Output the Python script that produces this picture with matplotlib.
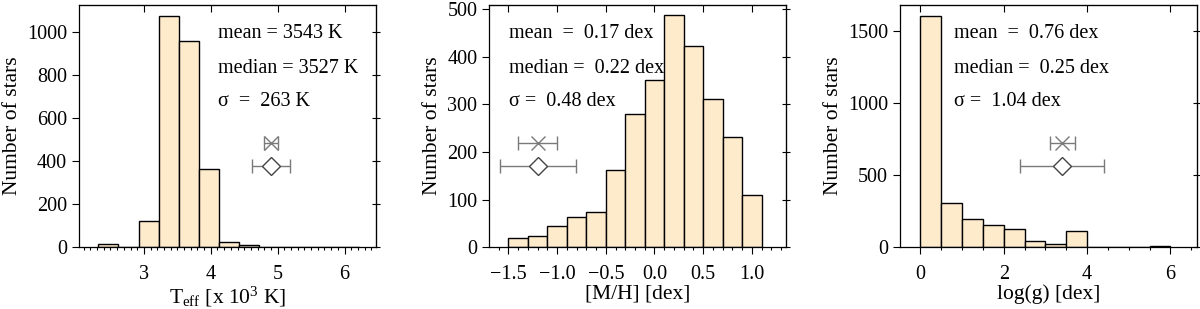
import numpy as np
import matplotlib
matplotlib.use("Agg")
import matplotlib.pyplot as plt
from matplotlib.ticker import MultipleLocator

plt.rcParams['font.family'] = ['Liberation Serif', 'DejaVu Serif']
plt.rcParams['mathtext.fontset'] = 'custom'
plt.rcParams['mathtext.rm'] = 'Liberation Serif'
plt.rcParams['mathtext.it'] = 'Liberation Serif:italic'

# ---- data ----
teff_edges = [2.32, 2.62, 2.92, 3.22, 3.52, 3.82, 4.12, 4.42, 4.72, 5.02, 5.32, 5.62, 5.92, 6.22]
teff_counts = [16, 3, 122, 1077, 961, 364, 25, 12, 3, 0, 0, 0, 2]

mh_edges = [-1.5, -1.3, -1.1, -0.9, -0.7, -0.5, -0.3, -0.1, 0.1, 0.3, 0.5, 0.7, 0.9, 1.1]
mh_counts = [19, 24, 45, 63, 75, 163, 280, 351, 486, 421, 311, 231, 109]

logg_edges = [0.0, 0.5, 1.0, 1.5, 2.0, 2.5, 3.0, 3.5, 4.0, 4.5, 5.0, 5.5, 6.0]
logg_counts = [1606, 310, 196, 155, 125, 46, 25, 113, 0, 0, 1, 6]

# error symbols: (x, y_cross, xerr_cross, y_diamond, xerr_diamond)
teff_err = (4.9, 484, 0.1, 378, 0.29)
mh_err = (-1.2, 219, 0.2, 170, 0.39)
logg_err = (3.4, 721, 0.3, 564, 1.0)

teff_text = ["mean = 3543 K", "median = 3527 K", "σ  =  263 K"]
mh_text = ["mean  =  0.17 dex", "median =  0.22 dex", "σ =  0.48 dex"]
logg_text = ["mean  =  0.76 dex", "median =  0.25 dex", "σ =  1.04 dex"]

xlabels = [r"T$_{\rm eff}$ [x 10$^{3}$ K]", "[M/H] [dex]", "log(g) [dex]"]

panels = [
    dict(edges=teff_edges, counts=teff_counts, err=teff_err, text=teff_text,
         xlim=(2.03, 6.47), ylim=(0, 1127), xmin=0.1, ymaj=200,
         xticks=[3, 4, 5, 6], xfmt="{:.0f}", left=79, tx=0.468),
    dict(edges=mh_edges, counts=mh_counts, err=mh_err, text=mh_text,
         xlim=(-1.696, 1.354), ylim=(0, 508), xmin=0.1, ymaj=100,
         xticks=[-1.5, -1.0, -0.5, 0.0, 0.5, 1.0], xfmt="{:.1f}", left=489.3, tx=0.066),
    dict(edges=logg_edges, counts=logg_counts, err=logg_err, text=logg_text,
         xlim=(-0.49, 6.64), ylim=(0, 1680), xmin=0.5, ymaj=500,
         xticks=[0, 2, 4, 6], xfmt="{:.0f}", left=900, tx=0.182),
]

W, H = 1200, 309
fig = plt.figure(figsize=(W / 100, H / 100), dpi=100)
bar_color = "#FDEBCB"
gray = "#7a7a7a"

for i, p in enumerate(panels):
    left = p['left'] / W
    bottom = (H - 247.3) / H
    height = 242.3 / H
    width = 297 / W
    ax = fig.add_axes([left, bottom, width, height])
    edges = np.array(p['edges'])
    counts = np.array(p['counts'])
    ax.bar(edges[:-1], counts, width=np.diff(edges), align='edge',
           color=bar_color, edgecolor='black', linewidth=1.0)
    ax.set_xlim(*p['xlim'])
    ax.set_ylim(*p['ylim'])
    ax.set_xticks(p['xticks'])
    ax.set_xticklabels([p['xfmt'].format(v).replace('-', '\u2212') for v in p['xticks']])
    ax.xaxis.set_minor_locator(MultipleLocator(p['xmin']))
    ax.yaxis.set_major_locator(MultipleLocator(p['ymaj']))
    ax.tick_params(axis='both', which='major', direction='out', length=5, width=0.8,
                   labelsize=14.5, colors='black')
    ax.tick_params(axis='x', which='minor', direction='out', length=2.5, width=0.8)
    ax.tick_params(axis='y', which='minor', left=False)
    ax.tick_params(axis='x', pad=8)
    for s in ax.spines.values():
        s.set_linewidth(0.9)
    # top and right ticks
    top = ax.secondary_xaxis('top')
    top.set_xticks(p['xticks'])
    top.tick_params(direction='in', length=5, width=0.8, labeltop=False)
    top.xaxis.set_minor_locator(matplotlib.ticker.NullLocator())
    right = ax.secondary_yaxis('right')
    right.yaxis.set_major_locator(MultipleLocator(p['ymaj']))
    right.tick_params(direction='inout', length=6, width=0.8, labelright=False)

    x0, yc, exc, yd, exd = p['err']
    ax.errorbar([x0], [yc], xerr=[exc], fmt='x', color=gray, ms=10, mew=1.0,
                elinewidth=1.0, capsize=5, capthick=1.0)
    ax.errorbar([x0], [yd], xerr=[exd], fmt='D', color=gray, mfc='white', mec='#444444',
                ms=9, mew=1.0, elinewidth=1.0, capsize=5, capthick=1.0)

    ys = [0.884, 0.736, 0.600]
    for t, y in zip(p['text'], ys):
        ax.text(p['tx'], y, t, transform=ax.transAxes, fontsize=14.5,
                ha='left', va='center')

    ax.set_ylabel("Number of stars", fontsize=15.5, labelpad=4)
    ax.set_xlabel(xlabels[i], fontsize=15.5, labelpad=0)

fig.savefig("out.png", dpi=100)
